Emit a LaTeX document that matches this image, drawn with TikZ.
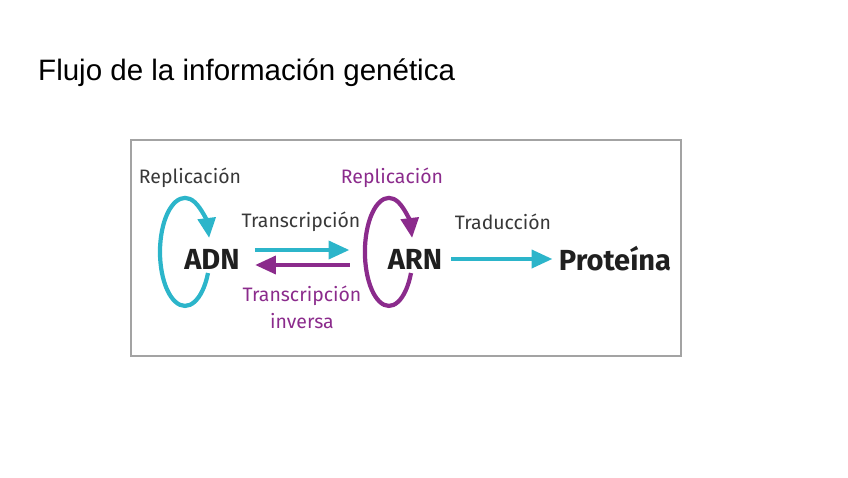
\documentclass[tikz,border=0pt]{standalone}
\usepackage{fontspec}
\setmainfont{Liberation Sans}
\newfontfamily\labelfont{Fira Sans}
\usetikzlibrary{positioning,arrows.meta}

\definecolor{flowcyan}{HTML}{2CB5CA}
\definecolor{flowpurple}{HTML}{8B2B8C}
\definecolor{labelgray}{HTML}{383838}
\definecolor{boxgray}{HTML}{A3A3A3}

\begin{document}
\begin{tikzpicture}[
    molecule/.style={font=\labelfont\bfseries\fontsize{24.8pt}{28pt}\selectfont, text=black!88, inner sep=0pt},
    process/.style={font=\labelfont\fontsize{16.6pt}{23pt}\selectfont, text=labelgray, inner sep=0pt, align=center},
    purpleproc/.style={process, text=flowpurple},
    flow/.style={line width=4.2pt, -{Triangle[length=18pt, width=15pt]}},
    cyanflow/.style={flow, draw=flowcyan},
    purpleflow/.style={flow, draw=flowpurple},
    loopc/.style={line width=3.6pt, -{Triangle[length=17pt, width=15pt]}}
]
\useasboundingbox (0,0) rectangle (25.44,-14.31);

% Title
\node[anchor=base west, inner sep=0pt, font=\fontsize{25.2pt}{30pt}\selectfont] (title) at (1.14,-2.4) {Flujo de la información genética};

% Frame
\draw[boxgray, line width=1.7pt] (3.93,-4.2) rectangle (20.43,-10.68);

% Molecules
\node[molecule] (adn) at (6.36,-7.77) {ADN};
\node[molecule] (arn) at (12.45,-7.77) {ARN};
\node[molecule] (prot) at (18.45,-7.77) {Proteína};

% Replication loops
\draw[loopc, flowcyan] ([shift={(-0.12,-0.42)}]adn.center) arc[start angle=-23, end angle=-345, x radius=0.75, y radius=1.62];
\draw[loopc, flowpurple] ([shift={(-0.12,-0.42)}]arn.center) arc[start angle=-23, end angle=-345, x radius=0.72, y radius=1.62];
\node[process] (repadn) at (5.70,-5.34) {Replicación};
\node[purpleproc] (reparn) at (11.76,-5.34) {Replicación};

% Transcription
\draw[cyanflow] ([shift={(0.45,0.27)}]adn.east) -- ([shift={(-1.14,0.27)}]arn.west);
\draw[purpleflow] ([shift={(-1.14,-0.18)}]arn.west) -- ([shift={(0.45,-0.18)}]adn.east);
\node[process] (trans) at (9.03,-6.66) {Transcripción};
\node[purpleproc] (inv) at (9.06,-9.21) {Transcripción\\inversa};

% Translation
\draw[cyanflow] ([xshift=0.27cm]arn.east) -- ([xshift=-0.18cm]prot.west);
\node[process] (trad) at (15.09,-6.66) {Traducción};

\end{tikzpicture}
\end{document}
